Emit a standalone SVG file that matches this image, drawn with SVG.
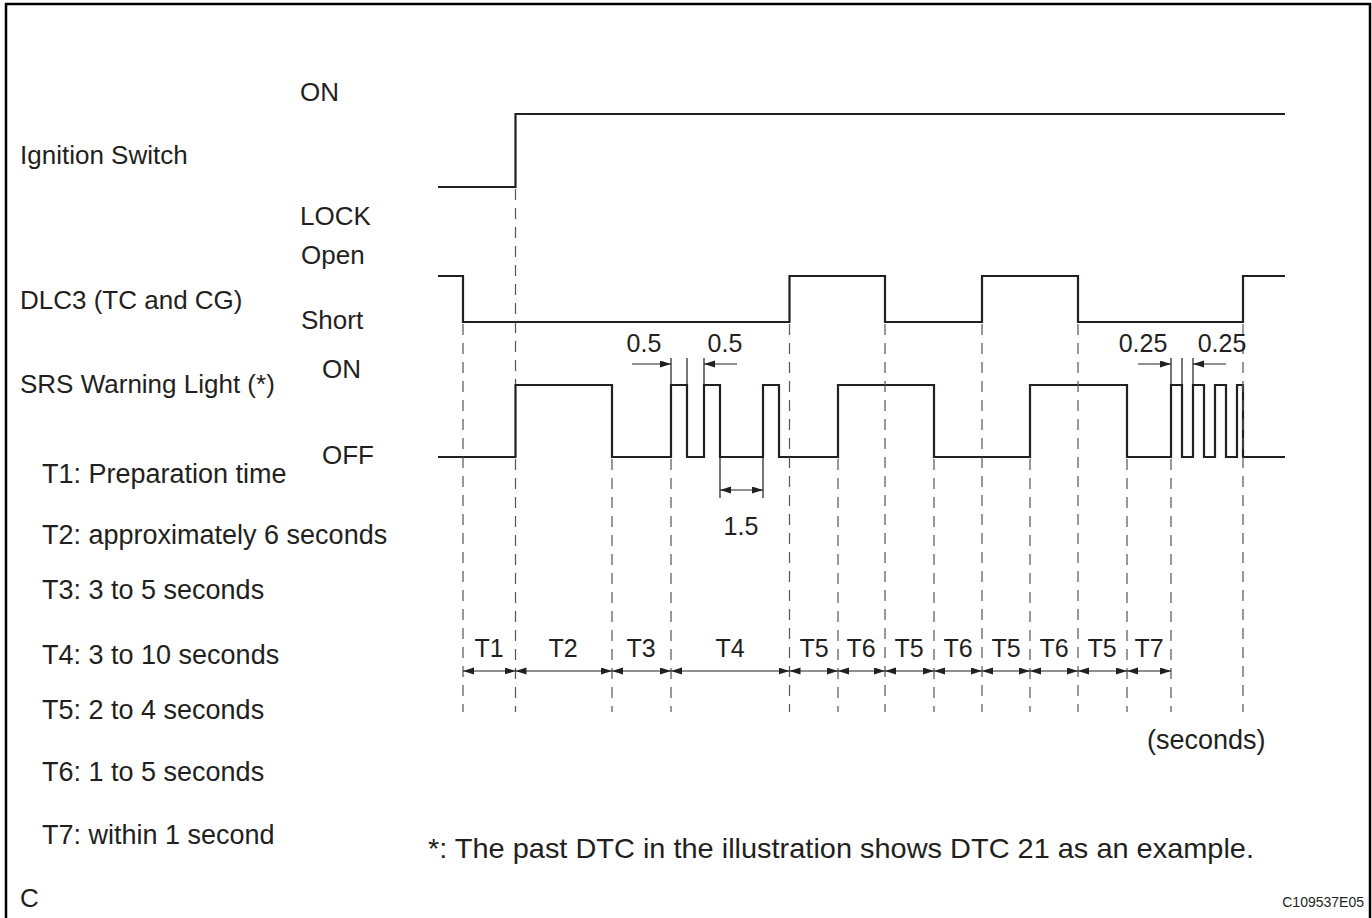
<svg xmlns="http://www.w3.org/2000/svg" width="1372" height="918" viewBox="0 0 1372 918">
<style>
text{font-family:"Liberation Sans",Arial,sans-serif;fill:#231f20;font-size:26px}
.lg{font-size:27px}
.t{font-size:25px;text-anchor:middle}
.d{font-size:25px;text-anchor:middle}
.small{font-size:14px;text-anchor:end}
.wave{fill:none;stroke:#231f20;stroke-width:2.2;stroke-linejoin:miter}
.dash{fill:none;stroke:#555;stroke-width:1.2;stroke-dasharray:11,8}
.dim{fill:none;stroke:#231f20;stroke-width:1.2}
.arr{fill:none;stroke:#231f20;stroke-width:1.2;marker-start:url(#ah);marker-end:url(#ah)}
.arr1{fill:none;stroke:#231f20;stroke-width:1.2;marker-end:url(#ah)}
</style>
<defs>
<marker id="ah" markerUnits="userSpaceOnUse" markerWidth="12" markerHeight="8" refX="11" refY="3.5" orient="auto-start-reverse">
<path d="M0,0 L11,3.5 L0,7 z" fill="#231f20"/>
</marker>
</defs>
<g id="frame"><path d="M6,918 V4 H1370 V918" fill="none" stroke="#000" stroke-width="2.5"/></g>

<g id="labels">
<text x="300" y="101">ON</text>
<text x="20" y="164">Ignition Switch</text>
<text x="300" y="225">LOCK</text>
<text x="301" y="264">Open</text>
<text x="20" y="309">DLC3 (TC and CG)</text>
<text x="301" y="329">Short</text>
<text x="20" y="393">SRS Warning Light (*)</text>
<text x="322" y="378">ON</text>
<text x="322" y="464">OFF</text>
<text class="lg" x="42" y="483">T1: Preparation time</text>
<text class="lg" x="42" y="544">T2: approximately 6 seconds</text>
<text class="lg" x="42" y="599">T3: 3 to 5 seconds</text>
<text class="lg" x="42" y="664">T4: 3 to 10 seconds</text>
<text class="lg" x="42" y="719">T5: 2 to 4 seconds</text>
<text class="lg" x="42" y="781">T6: 1 to 5 seconds</text>
<text class="lg" x="42" y="844">T7: within 1 second</text>
<text class="lg" x="1147" y="749">(seconds)</text>
<text x="428" y="858" style="font-size:28px" textLength="826" lengthAdjust="spacingAndGlyphs">*: The past DTC in the illustration shows DTC 21 as an example.</text>
<text x="20" y="907">C</text>
<text x="1364" y="907" class="small">C109537E05</text>
</g>

<g id="ignition"><path class="wave" d="M438,187 H515.5 V114 H1285"/></g>
<g id="dlc3"><path class="wave" d="M438,276 H463 V322 H789.5 V276 H885 V322 H982 V276 H1078 V322 H1243 V276 H1285"/></g>
<g id="srs"><path class="wave" d="M438,457 H515.5 V385 H612 V457 H671 V385 H687 V457 H704 V385 H720 V457 H763 V385 H779 V457 H838 V385 H934 V457 H1030 V385 H1127 V457 H1171 V385 H1182 V457 H1193 V385 H1204 V457 H1215 V385 H1226 V457 H1237 V385 H1243 V457 H1285"/></g>

<g id="connectors">
<path class="dash" d="M463,324 V712"/>
<path class="dash" d="M515.5,189 V384 M515.5,459 V712"/>
<path class="dash" d="M612,459 V712"/>
<path class="dash" d="M671,459 V712"/>
<path class="dash" d="M789.5,324 V712"/>
<path class="dash" d="M838,459 V712"/>
<path class="dash" d="M885,324 V712"/>
<path class="dash" d="M934,459 V712"/>
<path class="dash" d="M982,324 V712"/>
<path class="dash" d="M1030,459 V712"/>
<path class="dash" d="M1078,324 V712"/>
<path class="dash" d="M1127,459 V712"/>
<path class="dash" d="M1171,459 V712"/>
<path class="dash" d="M1243,324 V712"/>

<path class="dim" d="M671,358 V385 M687,358 V385 M704,358 V385"/>
<path class="arr1" d="M632,364 H671"/>
<path class="arr1" d="M737,364 H704"/>
<path class="dim" d="M1171,358 V385 M1182,358 V385 M1193,358 V385"/>
<path class="arr1" d="M1138,364 H1171"/>
<path class="arr1" d="M1226,364 H1193"/>
<path class="dim" d="M720,457 V498 M763,457 V498"/>
<path class="arr" d="M720,490 H763"/>

<path class="arr" d="M463,671 H515.5"/>
<path class="arr" d="M515.5,671 H612"/>
<path class="arr" d="M612,671 H671"/>
<path class="arr" d="M671,671 H789.5"/>
<path class="arr" d="M789.5,671 H838"/>
<path class="arr" d="M838,671 H885"/>
<path class="arr" d="M885,671 H934"/>
<path class="arr" d="M934,671 H982"/>
<path class="arr" d="M982,671 H1030"/>
<path class="arr" d="M1030,671 H1078"/>
<path class="arr" d="M1078,671 H1127"/>
<path class="arr" d="M1127,671 H1171"/>
</g>

<g id="dimlabels">
<text class="d" x="644" y="352">0.5</text>
<text class="d" x="725" y="352">0.5</text>
<text class="d" x="1143" y="352">0.25</text>
<text class="d" x="1222" y="352">0.25</text>
<text class="d" x="741" y="535">1.5</text>
<text class="t" x="489" y="657">T1</text>
<text class="t" x="563" y="657">T2</text>
<text class="t" x="641" y="657">T3</text>
<text class="t" x="730" y="657">T4</text>
<text class="t" x="814" y="657">T5</text>
<text class="t" x="861" y="657">T6</text>
<text class="t" x="909" y="657">T5</text>
<text class="t" x="958" y="657">T6</text>
<text class="t" x="1006" y="657">T5</text>
<text class="t" x="1054" y="657">T6</text>
<text class="t" x="1102" y="657">T5</text>
<text class="t" x="1149" y="657">T7</text>
</g>
</svg>
